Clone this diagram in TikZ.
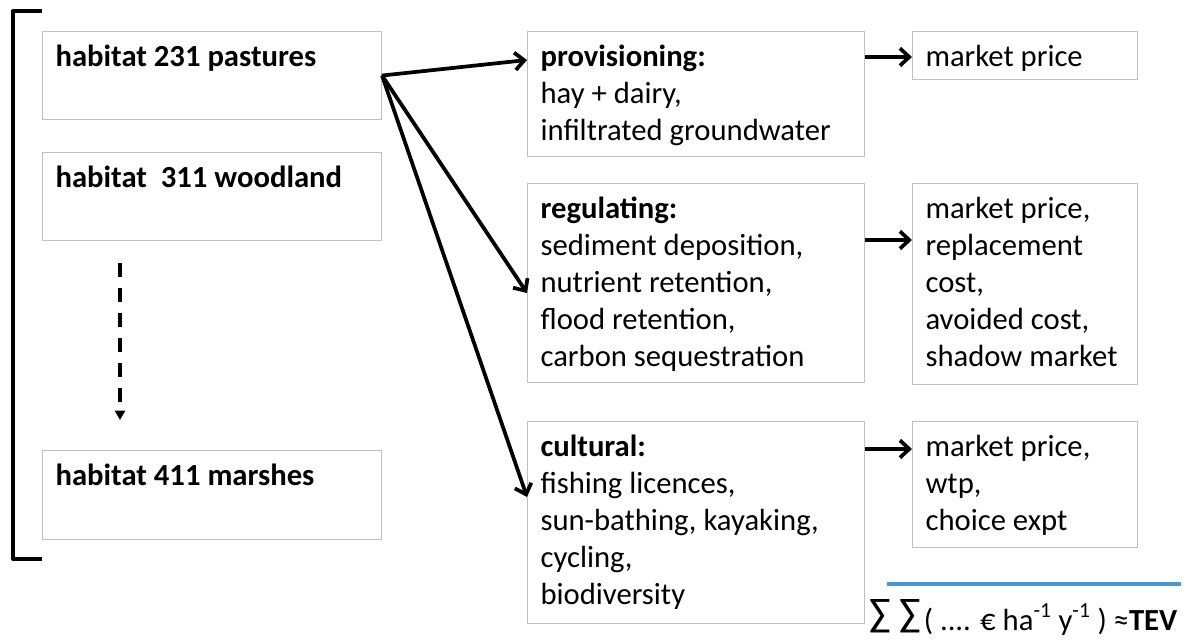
\documentclass[tikz,border=0pt]{standalone}
\usepackage{fontspec}
\setmainfont{Carlito}
\usepackage{tikz}
\usetikzlibrary{arrows.meta}
\usetikzlibrary{positioning}

\newlength{\pxu}
\setlength{\pxu}{0.75pt}
\newcommand{\celltext}[3]{\parbox[t][#2\pxu][t]{#1\pxu}{\raggedright\strut #3}}

\definecolor{cellgray}{RGB}{192,192,192}
\definecolor{tevblue}{RGB}{68,155,212}

\tikzset{
  cell/.style={draw=cellgray, line width=0.8pt, anchor=north west, inner xsep=13\pxu, inner ysep=9\pxu, font=\fontsize{23}{27.75}\selectfont},
  link/.style={line width=2.8pt, -{Straight Barb[length=7pt,width=13pt]}},
  skipline/.style={line width=2.6pt, dash pattern=on 10.5pt off 8.25pt, -{Triangle[length=7pt,width=7.5pt]}},
}

\begin{document}
\begin{tikzpicture}[x=0.75pt,y=-0.75pt]
\useasboundingbox (0,0) rectangle (1204,642);

\node[cell] (hab1) at (42,31) {\celltext{313}{70}{\textbf{habitat 231 pastures}}};
\node[cell] (hab2) at (42,152) {\celltext{313}{70}{\textbf{habitat\ \ 311 woodland}}};
\node[cell] (hab3) at (42,450) {\celltext{313}{71}{\textbf{habitat 411 marshes}}};

\node[cell] (prov) at (527,31) {\celltext{311}{107}{\textbf{provisioning:}\\ hay + dairy,\\ infiltrated groundwater}};
\node[cell] (reg) at (527,183) {\celltext{311}{181}{\textbf{regulating:}\\ sediment deposition,\\ nutrient retention,\\ flood retention,\\ carbon sequestration}};
\node[cell] (cult) at (527,421) {\celltext{311}{184}{\textbf{cultural:}\\ fishing licences,\\ sun-bathing, kayaking,\\ cycling,\\ biodiversity}};

\node[cell] (price1) at (912,31) {\celltext{199}{30}{market price}};
\node[cell] (price2) at (912,183) {\celltext{199}{183}{market price,\\ replacement\\ cost,\\ avoided cost,\\ shadow market}};
\node[cell] (price3) at (912,421) {\celltext{199}{108}{market price,\\ wtp,\\ choice expt}};

\draw[line width=3pt, line join=round] (42,11) -- (13,11) -- (13,559) -- (42,559);

\draw[skipline, shorten <=22\pxu, shorten >=30\pxu] ([xshift=78\pxu]hab2.south west) -- ([xshift=78\pxu]hab3.north west);

\draw[link] (hab1.east) -- ([yshift=-29\pxu]prov.north west);
\draw[link] (hab1.east) -- ([yshift=-110\pxu]reg.north west);
\draw[link] (hab1.east) -- ([yshift=-76\pxu]cult.north west);

\draw[link] ([yshift=-26\pxu]prov.north east) -- ([yshift=-26\pxu]price1.north west);
\draw[link] ([yshift=-57\pxu]reg.north east) -- ([yshift=-57\pxu]price2.north west);
\draw[link] ([yshift=-28\pxu]cult.north east) -- ([yshift=-28\pxu]price3.north west);

\draw[tevblue, line width=2.4pt] (887,584) -- (1181,584);
\node[anchor=base west, inner sep=0pt] (tev) at (869,630) {{\fontsize{30}{30}\selectfont\raisebox{2.5pt}{∑ ∑}}\,{\fontsize{23}{23}\selectfont ( .... € ha\textsuperscript{-1} y\textsuperscript{-1} ) ≈\textbf{TEV}}};
\end{tikzpicture}
\end{document}
